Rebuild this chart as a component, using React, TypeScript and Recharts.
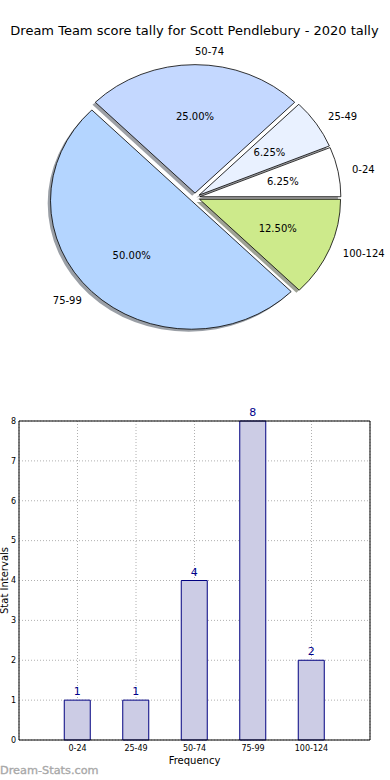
import React from 'react';
import { PieChart, Pie, BarChart, Bar, XAxis, YAxis, CartesianGrid, LabelList, ReferenceLine } from 'recharts';

const chartTitle = 'Dream Team score tally for Scott Pendlebury - 2020 tally';
const categories = ['0-24', '25-49', '50-74', '75-99', '100-124'];
const counts = [1, 1, 4, 8, 2];
const sliceColors = ['#ffffff', '#e9f1ff', '#c4d8ff', '#b4d5ff', '#cdea8b'];
const barPositions = [1, 2, 3, 4, 5];
const yTicks = [0, 1, 2, 3, 4, 5, 6, 7, 8];
const xDomain: [number, number] = [0, 6];
const yDomain: [number, number] = [0, 8];
const xLabel = 'Frequency';
const yLabel = 'Stat Intervals';
const watermark = 'Dream-Stats.com';

const pieData = categories.map((name, i) => ({ name, value: counts[i] }));
const barData = categories.map((name, i) => ({ name, pos: barPositions[i], count: counts[i] }));

const FONT = "'DejaVu Sans', sans-serif";
const RAD = Math.PI / 180;
const Y_RATIO = 0.911;
const EXPLODE = 0.035;
const SHADOW = 0.02;

function geom(p: any) {
  const rx = p.outerRadius;
  const ry = rx * Y_RATIO;
  const m = p.midAngle * RAD;
  const ox = p.cx + EXPLODE * rx * Math.cos(m);
  const oy = p.cy - EXPLODE * ry * Math.sin(m);
  return { rx, ry, ox, oy, m };
}

function wedgePath(ox: number, oy: number, rx: number, ry: number, a: number, b: number) {
  const s = Math.min(a, b);
  const e = Math.max(a, b);
  const pt = (ang: number) => [ox + rx * Math.cos(ang * RAD), oy - ry * Math.sin(ang * RAD)];
  const mid = (s + e) / 2;
  const [x0, y0] = pt(s);
  const [x1, y1] = pt(mid);
  const [x2, y2] = pt(e);
  return `M${ox},${oy}L${x0},${y0}A${rx},${ry} 0 0 0 ${x1},${y1}A${rx},${ry} 0 0 0 ${x2},${y2}Z`;
}

function darken(hex: string) {
  const n = parseInt(hex.slice(1), 16);
  const r = Math.round(((n >> 16) & 255) * 0.3);
  const g = Math.round(((n >> 8) & 255) * 0.3);
  const b = Math.round((n & 255) * 0.3);
  return `rgb(${r},${g},${b})`;
}

const renderShadow = (p: any) => {
  const { rx, ry, ox, oy } = geom(p);
  return (
    <path
      d={wedgePath(ox - SHADOW * rx, oy + SHADOW * ry, rx, ry, p.startAngle, p.endAngle)}
      fill={darken(sliceColors[p.index])}
      fillOpacity={0.5}
      stroke="none"
    />
  );
};

const renderWedge = (p: any) => {
  const { rx, ry, ox, oy } = geom(p);
  return (
    <path
      d={wedgePath(ox, oy, rx, ry, p.startAngle, p.endAngle)}
      fill={sliceColors[p.index]}
      stroke="#000"
      strokeWidth={0.8}
      strokeLinejoin="round"
    />
  );
};

const renderTexts = (p: any) => {
  const { rx, ry, ox, oy, m } = geom(p);
  const c = Math.cos(m);
  const s = Math.sin(m);
  return (
    <g>
      <text
        x={ox + 1.1 * rx * c}
        y={oy - 1.1 * ry * s}
        textAnchor={c > 0 ? 'start' : 'end'}
        dominantBaseline="central"
        fontSize={10}
        fontFamily={FONT}
        fill="#000"
      >
        {p.name}
      </text>
      <text
        x={ox + 0.6 * rx * c}
        y={oy - 0.6 * ry * s}
        textAnchor="middle"
        dominantBaseline="central"
        fontSize={10}
        fontFamily={FONT}
        fill="#000"
      >
        {(p.percent * 100).toFixed(2) + '%'}
      </text>
    </g>
  );
};

export default function App() {
  const common = {
    data: pieData,
    dataKey: 'value',
    nameKey: 'name',
    cx: 195,
    cy: 197.6,
    outerRadius: 141,
    startAngle: 0,
    endAngle: 360,
    isAnimationActive: false,
    fill: 'none',
    stroke: 'none',
    labelLine: false,
  };
  return (
    <div style={{ position: 'absolute', left: 0, top: 0, width: 390, height: 780, background: '#fff', fontFamily: FONT }}>
      <div style={{ position: 'absolute', left: 0, top: 0 }}>
        <PieChart width={390} height={390} margin={{ top: 0, right: 0, bottom: 0, left: 0 }}>
          <Pie {...(common as any)} label={renderShadow} />
          <Pie {...(common as any)} label={renderWedge} />
          <Pie {...(common as any)} label={renderTexts} />
        </PieChart>
      </div>
      <div style={{ position: 'absolute', left: 0, top: 400 }}>
        <BarChart width={390} height={380} data={barData} margin={{ top: 21, right: 20, left: 0, bottom: 0 }}>
          <Bar dataKey="count" fill="#cccce5" stroke="#000080" strokeWidth={1} barSize={26} isAnimationActive={false}>
            <LabelList dataKey="count" position="top" offset={5} fill="#00008b" fontSize={11} fontFamily={FONT} />
          </Bar>
          <CartesianGrid strokeDasharray="1 2" stroke="#b0b0b0" />
          <ReferenceLine y={yDomain[1]} stroke="#000" strokeWidth={1} />
          <ReferenceLine x={xDomain[1]} stroke="#000" strokeWidth={1} />
          <XAxis
            dataKey="pos"
            type="number"
            domain={xDomain}
            ticks={barPositions}
            tickFormatter={(v: number) => categories[v - 1]}
            interval={0}
            height={40}
            tickSize={0}
            tickMargin={5}
            tickLine={false}
            axisLine={{ stroke: '#000' }}
            tick={{ fontSize: 8, fill: '#000', fontFamily: FONT }}
            label={{ value: xLabel, position: 'insideBottom', offset: 16, fontSize: 10, fill: '#000', fontFamily: FONT }}
          />
          <YAxis
            type="number"
            domain={yDomain}
            ticks={yTicks}
            interval={0}
            width={19}
            tickSize={0}
            tickMargin={3}
            tickLine={false}
            axisLine={{ stroke: '#000' }}
            tick={{ fontSize: 8, fill: '#000', fontFamily: FONT }}
          />
        </BarChart>
      </div>
      <svg width={390} height={780} style={{ position: 'absolute', left: 0, top: 0, pointerEvents: 'none' }}>
        <text x={194.5} y={34.5} textAnchor="middle" fontSize={13} fontFamily={FONT} fill="#000">
          {chartTitle}
        </text>
        <text transform="translate(8,580.5) rotate(-90)" textAnchor="middle" fontSize={10} fontFamily={FONT} fill="#000">
          {yLabel}
        </text>
        <text x={0} y={774} fontSize={11.3} fontFamily={FONT} fill="#a8a8a8" stroke="#a8a8a8" strokeWidth={0.35}>
          {watermark}
        </text>
      </svg>
    </div>
  );
}
